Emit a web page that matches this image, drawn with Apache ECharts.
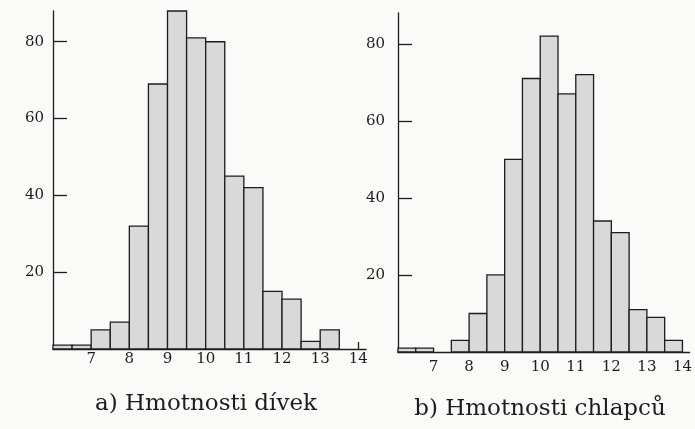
<!DOCTYPE html>
<html>
<head>
<meta charset="utf-8">
<script src="https://cdn.jsdelivr.net/npm/echarts@6/dist/echarts.min.js"></script>
<style>
  html, body { margin: 0; padding: 0; background: #fafaf8; }
  #chart { width: 695px; height: 429px; }
</style>
</head>
<body>
<div id="chart"></div>
<script>
// Bin left edges (kg), bin width 0.5
const binStarts = [6.0, 6.5, 7.0, 7.5, 8.0, 8.5, 9.0, 9.5, 10.0, 10.5, 11.0, 11.5, 12.0, 12.5, 13.0, 13.5];
const binWidth = 0.5;
// a) Hmotnosti dívek (girls)
const girls = [1, 1, 5, 7, 32, 69, 88, 81, 80, 45, 42, 15, 13, 2, 5, 0];
// b) Hmotnosti chlapců (boys)
const boys  = [1, 1, 0, 3, 10, 20, 50, 71, 82, 67, 72, 34, 31, 11, 9, 3];
const xTickLabels = [7, 8, 9, 10, 11, 12, 13, 14];
const yTickLabels = [20, 40, 60, 80];
const titleA = 'a) Hmotnosti dívek';
const titleB = 'b) Hmotnosti chlapců';

const FONT = 'DejaVu Serif';
const INK = '#1c1c1c';

function toData(counts) {
  return binStarts.map((s, i) => [s, s + binWidth, counts[i]]).filter(d => d[2] > 0);
}
function renderBar(params, api) {
  const p0 = api.coord([api.value(0), api.value(2)]);
  const p1 = api.coord([api.value(1), 0]);
  return {
    type: 'rect',
    shape: { x: p0[0], y: p0[1], width: p1[0] - p0[0], height: p1[1] - p0[1] },
    style: { fill: '#d9d9d9', stroke: INK, lineWidth: 1.3 }
  };
}
function xAx(idx, showEndTick, margin) {
  return {
    gridIndex: idx, type: 'value', min: 6, max: 14.2,
    axisLine: { show: true, lineStyle: { color: INK, width: 1.3 } },
    axisTick: { show: showEndTick, inside: true, length: 7, customValues: [14], lineStyle: { color: INK, width: 1.3 } },
    splitLine: { show: false },
    axisLabel: { customValues: xTickLabels, margin: margin, color: INK, fontFamily: FONT, fontSize: 15 }
  };
}
function yAx(idx, margin) {
  return {
    gridIndex: idx, type: 'value', min: 0, max: 88,
    axisLine: { show: true, lineStyle: { color: INK, width: 1.3 } },
    axisTick: { show: true, inside: true, length: 14, customValues: yTickLabels, lineStyle: { color: INK, width: 1.3 } },
    splitLine: { show: false },
    axisLabel: { customValues: yTickLabels, margin: margin, color: INK, fontFamily: FONT, fontSize: 15 }
  };
}

const chart = echarts.init(document.getElementById('chart'), null, { renderer: 'canvas' });
chart.setOption({
  backgroundColor: '#fafaf8',
  animation: false,
  title: [
    { text: titleA, left: 206, top: 393, textAlign: 'center', padding: 0,
      textStyle: { fontFamily: FONT, fontSize: 23, fontWeight: 'normal', color: INK } },
    { text: titleB, left: 540, top: 398, textAlign: 'center', padding: 0,
      textStyle: { fontFamily: FONT, fontSize: 23, fontWeight: 'normal', color: INK } }
  ],
  grid: [
    { left: 53, top: 11, width: 313, height: 338 },
    { left: 398, top: 13, width: 295, height: 339 }
  ],
  xAxis: [xAx(0, true, 3), xAx(1, false, 8)],
  yAxis: [yAx(0, 9), yAx(1, 13)],
  series: [
    { type: 'custom', xAxisIndex: 0, yAxisIndex: 0, renderItem: renderBar, data: toData(girls), encode: { x: [0, 1], y: 2 } },
    { type: 'custom', xAxisIndex: 1, yAxisIndex: 1, renderItem: renderBar, data: toData(boys), encode: { x: [0, 1], y: 2 } }
  ]
});
</script>
</body>
</html>
